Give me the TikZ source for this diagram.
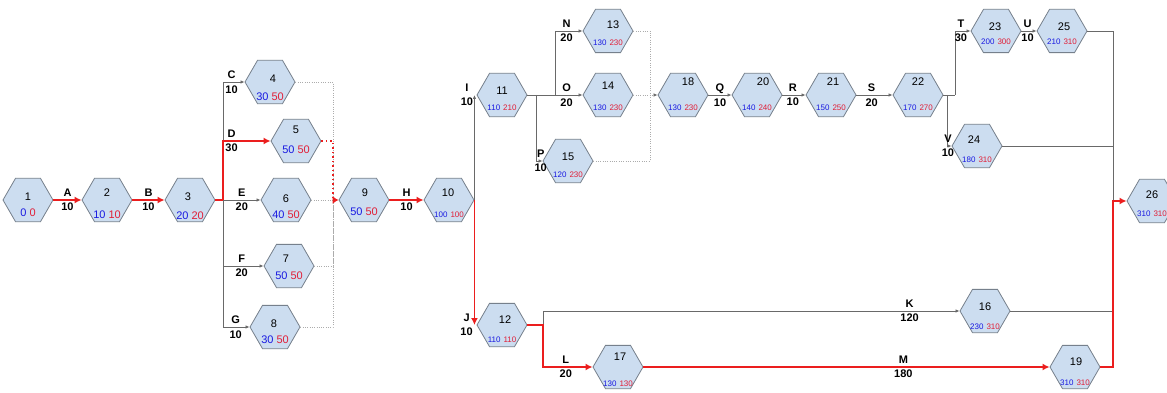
\documentclass[tikz,border=0pt]{standalone}
\usepackage{fontspec}
\setmainfont{Liberation Sans}
\usetikzlibrary{shapes, arrows.meta, calc}

\definecolor{evfill}{RGB}{204,221,240}
\definecolor{evline}{RGB}{118,128,140}
\definecolor{esblue}{RGB}{25,25,225}
\definecolor{lsred}{RGB}{225,30,55}
\definecolor{actgray}{RGB}{105,105,105}
\definecolor{critred}{RGB}{235,30,30}

\begin{document}
\begin{tikzpicture}[x=1pt, y=-1pt]
  \newcommand\evsize{50pt}
  \newcommand\valgap{3pt}

  \tikzset{event/.style={regular polygon, regular polygon sides=6, minimum size=\evsize, inner sep=0pt, draw=evline, line width=0.8pt, fill=evfill}}
  \tikzset{evnum/.style={inner sep=0pt, font=\fontsize{11}{13}\selectfont}}
  \tikzset{bigval/.style={inner sep=0pt, font=\fontsize{11}{13}\selectfont}}
  \tikzset{smallval/.style={inner sep=0pt, font=\fontsize{8}{10}\selectfont}}
  \tikzset{actline/.style={draw=actgray, line width=0.9pt}}
  \tikzset{act/.style={actline, -{Latex[length=4pt, width=3.5pt]}}}
  \tikzset{crit/.style={draw=critred, line width=1.5pt, -{Latex[length=7pt, width=7pt]}}}
  \tikzset{dummy/.style={draw=gray!65, line width=0.7pt, dash pattern=on 0.7pt off 1.6pt}}
  \tikzset{critdummy/.style={draw=critred, line width=1.5pt, dash pattern=on 1.5pt off 3pt}}
  \tikzset{lbl/.style={inner sep=1pt, align=center, font=\bfseries\fontsize{11}{14.5}\selectfont}}

  \useasboundingbox (0,0) rectangle (1167,393);
  \clip (0,0) rectangle (1167,393);
  \fill[white] (0,0) rectangle (1167,393);

  % events: id/x/y/earliest/latest/value font/number shift/value shift
  \foreach \id/\x/\y/\es/\ls/\vf/\dx/\dy/\vy in {
      1/28/200/0/0/bigval/0/-3/13, 2/107/200/10/10/bigval/0/-7/15, 3/190/200/20/20/bigval/-2/-3/16,
      4/270/82/30/50/bigval/3/-3/15, 5/296/141/50/50/bigval/0/-11/9, 6/286/200/40/50/bigval/0/-1/15,
      7/289/266/50/50/bigval/-3/-7/10, 8/275/327/30/50/bigval/-1/-3/13, 9/364/200/50/50/bigval/1/-7/12,
      10/449/200/100/100/smallval/-1/-7/15, 11/502/95/110/210/smallval/0/-4/13, 12/502/325/110/110/smallval/3/-5/15,
      13/608/31/130/230/smallval/5/-6/12, 14/608/95/130/230/smallval/0/-9/13, 15/568/161/120/230/smallval/0/-4/14,
      16/985/311/230/310/smallval/0/-4/16, 17/618/367/130/130/smallval/2/-10/17, 18/683/95/130/230/smallval/5/-13/13,
      19/1075/367/310/310/smallval/1/-5/16, 20/757/95/140/240/smallval/6/-13/13, 21/831/95/150/250/smallval/2/-13/13,
      22/918/95/170/270/smallval/0/-13/13, 23/996/31/200/300/smallval/-1/-4/11, 24/977/146/180/310/smallval/-3/-6/14,
      25/1062/31/210/310/smallval/2/-4/11, 26/1152/201/310/310/smallval/0/-6/13}{
    \node[event] (n\id) at (\x,\y) {};
    \node[evnum] (n\id-num) at ($(n\id)+(\dx,\dy)$) {\id};
    \node[\vf] (n\id-val) at ($(n\id)+(0,\vy)$) {\textcolor{esblue}{\es}\hspace{\valgap}\textcolor{lsred}{\ls}};
  }

  \coordinate (j3) at (223,200);
  \coordinate (j9) at (333,200);
  \coordinate (jP) at (536,95);
  \coordinate (jN) at (555,95);
  \coordinate (j18) at (650,95);
  \coordinate (jL) at (543,325);
  \coordinate (jV) at (947,95);
  \coordinate (jT) at (955,95);
  \coordinate (j26) at (1113,201);

  % dummies
  \draw[dummy] (n4.east) -| (j9);
  \draw[dummy] (n6.east) -- (j9);
  \draw[dummy] (n7.east) -| (j9);
  \draw[dummy] (n8.east) -| (j9);
  \draw[critdummy] (n5.east) -| (j9);
  \draw[critdummy, -{Latex[length=6pt, width=8pt]}] (j9) -- (n9.west);
  \draw[dummy] (n13.east) -| (j18);
  \draw[dummy] (n15.east) -| (j18);
  \draw[dummy, -{Latex[length=4pt, width=3.5pt, color=actgray]}] (n14.east) -- (n18.west);

  % activities
  \draw[act] (j3) |- node[lbl, pos=0.70] (lC) {C\\10} (n4.west);
  \draw[act] (j3) -- node[lbl, pos=0.5] (lE) {E\\20} (n6.west);
  \draw[act] (j3) |- node[lbl, pos=0.73] (lF) {F\\20} (n7.west);
  \draw[act] (j3) |- node[lbl, pos=0.74] (lG) {G\\10} (n8.west);
  \draw[act] (n10.east) -- node[lbl, pos=1, anchor=east] (lI) {I\\10} (n10.east |- n11.west);
  \draw[act] (n11.east) -- node[lbl, pos=0.71] (lO) {O\\20} (n14.west);
  \draw[act] (jN) |- node[lbl, pos=0.71] (lN) {N\\20} (n13.west);
  \draw[act] (jP) |- node[lbl, pos=0.86] (lP) {P\\10} (n15.west);
  \draw[act] (n18.east) -- node[lbl] (lQ) {Q\\10} (n20.west);
  \draw[act] (n20.east) -- node[lbl, pos=0.45] (lR) {R\\10} (n21.west);
  \draw[act] (n21.east) -- node[lbl, pos=0.42] (lS) {S\\20} (n22.west);
  \draw[actline] (n22.east) -- (jT);
  \draw[act] (jT) |- node[lbl, pos=0.69] (lT) {T\\30} (n23.west);
  \draw[act] (jV) |- node[lbl, pos=0.6] (lV) {V\\10} (n24.west);
  \draw[act] (n23.east) -- node[lbl, pos=0.4] (lU) {U\\10} (n25.west);
  \draw[act] (jL) |- node[lbl, pos=0.94] (lK) {K\\120} (n16.west);
  \draw[actline] (n25.east) -| (j26);
  \draw[actline] (n24.east) -- (n24.east -| j26);
  \draw[actline] (n16.east) -- (n16.east -| j26);

  % critical path
  \draw[crit] (n1.east) -- node[lbl] (lA) {A\\10} (n2.west);
  \draw[crit] (n2.east) -- node[lbl] (lB) {B\\10} (n3.west);
  \draw[crit, -] (n3.east) -- (j3);
  \draw[crit] (j3) |- node[lbl, pos=0.59] (lD) {D\\30} (n5.west);
  \draw[crit] (n9.east) -- node[lbl] (lH) {H\\10} (n10.west);
  \draw[crit] (n10.east) -- node[lbl, pos=1, anchor=east] (lJ) {J\\10} (n10.east |- n12.west);
  \draw[crit] (n12.east) -- (jL) |- node[lbl, pos=0.73] (lL) {L\\20} (n17.west);
  \draw[crit] (n17.east) -- node[lbl, pos=0.64] (lM) {M\\180} (n19.west);
  \draw[crit] (n19.east) -| (j26) -- (n26.west);
\end{tikzpicture}
\end{document}
